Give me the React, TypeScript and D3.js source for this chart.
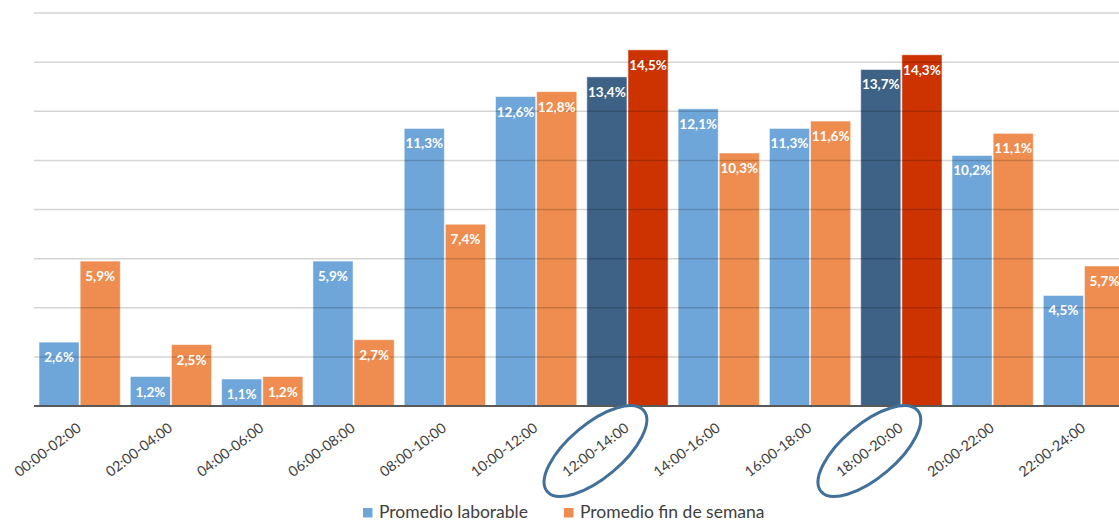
import React from "react";
import * as d3 from "d3";

const categories = [
  "00:00-02:00", "02:00-04:00", "04:00-06:00", "06:00-08:00",
  "08:00-10:00", "10:00-12:00", "12:00-14:00", "14:00-16:00",
  "16:00-18:00", "18:00-20:00", "20:00-22:00", "22:00-24:00",
];
const laborable = [2.6, 1.2, 1.1, 5.9, 11.3, 12.6, 13.4, 12.1, 11.3, 13.7, 10.2, 4.5];
const finDeSemana = [5.9, 2.5, 1.2, 2.7, 7.4, 12.8, 14.5, 10.3, 11.6, 14.3, 11.1, 5.7];
const highlighted = ["12:00-14:00", "18:00-20:00"];
const yTicks = [0, 2, 4, 6, 8, 10, 12, 14, 16];
const seriesNames = ["Promedio laborable", "Promedio fin de semana"];

const W = 1119;
const H = 520;
const plot = { left: 34, right: 34 + 12 * 91.3, top: 13, bottom: 406 };

const colors = {
  blue: "#6fa6d9",
  orange: "#ee8d4f",
  darkBlue: "#3d6286",
  red: "#cc3300",
  ring: "#41709b",
};

const font = "Lato, 'Open Sans', sans-serif";

export default function App() {
  const x = d3.scaleBand<string>().domain(categories).range([plot.left, plot.right]).paddingInner(0.11).paddingOuter(0.055);
  const sub = d3.scaleBand<number>().domain([0, 1]).range([0, x.bandwidth()]).paddingInner(0.025);
  const y = d3.scaleLinear().domain([0, 16]).range([plot.bottom, plot.top]);
  const fmt = (v: number) => v.toFixed(1).replace(".", ",") + "%";

  const series = [laborable, finDeSemana];

  return (
    <svg width={W} height={H} style={{ position: "absolute", left: 0, top: 0, background: "#fff" }} fontFamily={font}>
      {categories.map((c, i) => {
        const hi = highlighted.includes(c);
        return series.map((vals, s) => {
          const v = vals[i];
          const bx = (x(c) as number) + (sub(s) as number);
          const bw = sub.bandwidth();
          const fill = s === 0 ? (hi ? colors.darkBlue : colors.blue) : hi ? colors.red : colors.orange;
          return (
            <rect key={c + s} x={bx} y={y(v)} width={bw} height={y(0) - y(v)} fill={fill} stroke="#fff" strokeOpacity={0.5} strokeWidth={1} />
          );
        });
      })}
      {/* gridlines sit over the bars, faintly visible through them */}
      {yTicks.slice(1).map((t) => (
        <line key={t} x1={plot.left} x2={W} y1={y(t)} y2={y(t)} stroke="#000" strokeOpacity={0.17} strokeWidth={1.5} />
      ))}
      {categories.map((c, i) =>
        series.map((vals, s) => {
          const v = vals[i];
          const bx = (x(c) as number) + (sub(s) as number);
          const bw = sub.bandwidth();
          return (
            <text key={"l" + c + s} x={bx + bw / 2} y={y(v) + 20} textAnchor="middle" fill="#fff" fontWeight={700} fontSize={13.5}>
              {fmt(v)}
            </text>
          );
        })
      )}
      <line x1={plot.left} x2={W} y1={y(0)} y2={y(0)} stroke="#595959" strokeWidth={2} />
      {categories.map((c) => {
        const cx = (x(c) as number) + x.bandwidth() / 2;
        return (
          <text key={c} transform={`translate(${cx + 2.5},${plot.bottom + 24}) rotate(-37)`} textAnchor="end" fill="#404040" fontSize={14.3}>
            {c}
          </text>
        );
      })}
      {highlighted.map((c) => {
        const cx = (x(c) as number) + x.bandwidth() / 2;
        return (
          <ellipse key={c} cx={0} cy={0} rx={63} ry={27} transform={`translate(${cx - 32},${plot.bottom + 45}) rotate(-40)`} fill="none" stroke={colors.ring} strokeWidth={3} />
        );
      })}
      <g fontSize={17.5} fill="#404040">
        <rect x={363} y={508} width={9.5} height={9.5} fill={colors.blue} />
        <text x={379} y={517.5}>{seriesNames[0]}</text>
        <rect x={564} y={508} width={9.5} height={9.5} fill={colors.orange} />
        <text x={580} y={517.5}>{seriesNames[1]}</text>
      </g>
    </svg>
  );
}
